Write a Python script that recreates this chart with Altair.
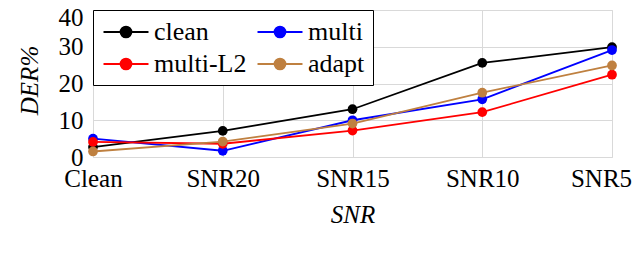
import altair as alt
import pandas as pd

categories = ["Clean", "SNR20", "SNR15", "SNR10", "SNR5"]
series_names = ["clean", "multi", "multi-L2", "adapt"]
clean = [2.7, 7.1, 13.0, 25.6, 29.9]
multi = [5.0, 1.7, 10.0, 15.7, 29.1]
multi_l2 = [4.1, 3.6, 7.2, 12.2, 22.4]
adapt = [1.5, 4.2, 9.1, 17.5, 24.9]
colors = {"clean": "#000000", "multi": "#0000ff", "multi-L2": "#ff0000", "adapt": "#bf8040"}
# legend is laid out column by column: column 1 = clean, multi-L2; column 2 = multi, adapt
legend_order = ["clean", "multi-L2", "multi", "adapt"]

rows = []
for name, vals in zip(series_names, [clean, multi, multi_l2, adapt]):
    for i, (c, v) in enumerate(zip(categories, vals)):
        rows.append({"cond": c, "der": v, "series": name, "order": i})
df = pd.DataFrame(rows)

FONT = "'Liberation Serif', 'Times New Roman', Times, 'DejaVu Serif', serif"
FS = 25

x = alt.X("cond:N", sort=categories, scale=alt.Scale(type="point", padding=0),
          axis=alt.Axis(title="SNR", titleFontStyle="italic", titleFontWeight="normal",
                        titleFont=FONT, titleFontSize=FS, titleColor="black",
                        titleBaseline="middle", titleY=57,
                        labelFont=FONT, labelFontSize=FS, labelColor="black",
                        labelAngle=0, labelPadding=9, labelBaseline="top",
                        labelOffset={"condition": {"test": "datum.value == 'SNR5'", "value": -11}, "value": 0},
                        ticks=False, domain=False,
                        grid=True, gridColor="#d9d9d9", gridWidth=1))
y = alt.Y("der:Q", scale=alt.Scale(domain=[0, 40], nice=False, zero=True),
          axis=alt.Axis(title="DER%", titleFontStyle="italic", titleFontWeight="normal",
                        titleFont=FONT, titleFontSize=FS, titleColor="black",
                        titleAngle=270, titleBaseline="middle", titleAlign="center",
                        titleX=-64, titleY=70,
                        values=[0, 10, 20, 30, 40],
                        labelFont=FONT, labelFontSize=FS, labelColor="black",
                        labelPadding=10, labelBaseline="middle",
                        labelOffset={"condition": {"test": "datum.value == 40", "value": 7}, "value": 0},
                        ticks=False, domain=False,
                        grid=True, gridColor="#d9d9d9", gridWidth=1))

cscale = alt.Scale(domain=legend_order, range=[colors[s] for s in legend_order])

legend_cfg = dict(
    title=None, orient="none", legendX=0, legendY=0, columns=2,
    strokeColor="black", fillColor="white", padding=8,
    labelFont=FONT, labelFontSize=26, labelColor="black", labelLimit=300,
    symbolType="M-1.73,0H1.73M-0.42,0A0.42,0.42,0,1,1,0.42,0A0.42,0.42,0,1,1,-0.42,0Z",
    symbolSize=676, symbolStrokeWidth=1.8, symbolOffset=11,
    labelOffset=14, rowPadding=5, columnPadding=6,
)

color = alt.Color("series:N", scale=cscale, legend=alt.Legend(**legend_cfg))

lines = alt.Chart(df).mark_line(strokeWidth=1.8).encode(
    x=x, y=y, color=color, detail="series:N", order="order:Q",
)

points = alt.Chart(df).mark_point(filled=True, size=95, opacity=1).encode(
    x=x, y=y, color=color,
)

chart = alt.layer(lines, points).properties(
    width=519, height=147,
    autosize=alt.AutoSizeParams(type="none"),
    padding={"left": 85, "top": 2, "right": 20, "bottom": 86},
).configure_view(stroke="black", strokeWidth=1.2).configure(background="white")

chart.save("out.html", embed_options={"renderer": "svg", "actions": False})
